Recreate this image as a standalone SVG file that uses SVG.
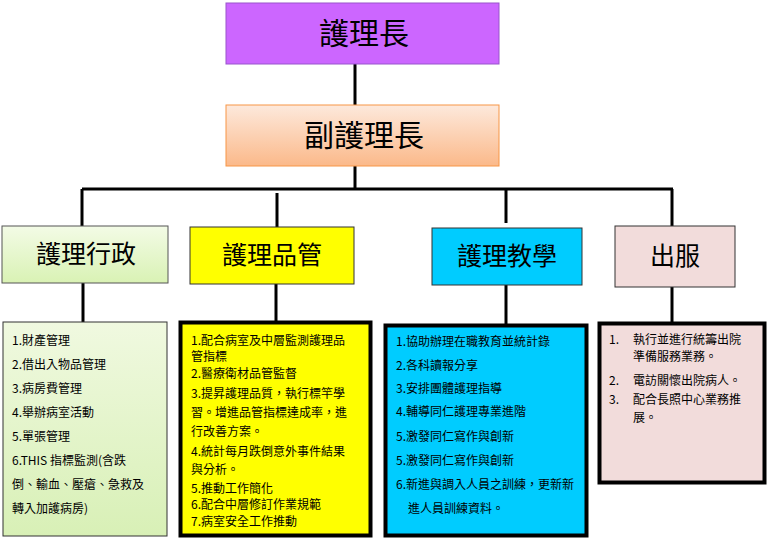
<svg xmlns="http://www.w3.org/2000/svg" width="768" height="541" viewBox="0 0 768 541">
<defs>
<linearGradient id="gOr" x1="0" y1="0" x2="0" y2="1"><stop offset="0" stop-color="#fde9dc"/><stop offset="1" stop-color="#fbb98a"/></linearGradient>
<linearGradient id="gGr" x1="0" y1="0" x2="0" y2="1"><stop offset="0" stop-color="#f3fbe6"/><stop offset="1" stop-color="#d9f2b4"/></linearGradient>
<linearGradient id="gGr2" x1="0" y1="0" x2="0" y2="1"><stop offset="0" stop-color="#f0f9e0"/><stop offset="1" stop-color="#d8f0b6"/></linearGradient>
</defs>
<style>
.t{font-family:"Noto Sans CJK TC","Liberation Sans",sans-serif;fill:#000}
.h{font-size:30px;text-anchor:middle}
.m{font-size:25px;text-anchor:middle}
.s{font-size:12px}
.c{stroke:#000;stroke-width:3;fill:none}
</style>
<g id="connectors">
<line class="c" x1="355" y1="64" x2="355" y2="105"/>
<line class="c" x1="355" y1="166" x2="355" y2="190"/>
<line class="c" x1="82" y1="189" x2="673" y2="189"/>
<line class="c" x1="82" y1="189" x2="82" y2="226"/>
<line class="c" x1="277" y1="193" x2="277" y2="227"/>
<line class="c" x1="506" y1="189" x2="506" y2="223"/>
<line class="c" x1="672" y1="189" x2="672" y2="226"/>
<line class="c" x1="83" y1="283" x2="83" y2="322"/>
<line class="c" x1="276" y1="284" x2="276" y2="321"/>
<line class="c" x1="506" y1="285" x2="506" y2="324"/>
<line class="c" x1="672" y1="287" x2="672" y2="322"/>
</g>
<g id="n-head"><rect x="226" y="3" width="273" height="61" fill="#cc66ff" stroke="#9955cc"/><text class="t h" x="364" y="44">護理長</text></g>
<g id="n-vice"><rect x="226" y="105" width="273" height="61" fill="url(#gOr)" stroke="#f79646"/><text class="t h" x="364" y="146">副護理長</text></g>
<g id="n-admin"><rect x="2" y="226" width="166" height="57" fill="url(#gGr)" stroke="#555"/><text class="t m" x="86" y="263">護理行政</text></g>
<g id="n-qc"><rect x="190" y="227" width="164" height="57" fill="#ffff00" stroke="#333"/><text class="t m" x="272" y="264">護理品管</text></g>
<g id="n-edu"><rect x="432" y="228" width="150" height="57" fill="#00ccff" stroke="#333"/><text class="t m" x="507" y="265">護理教學</text></g>
<g id="n-dis"><rect x="615" y="226" width="120" height="61" fill="#f2dcdb" stroke="#333"/><text class="t m" x="675" y="265">出服</text></g>
<g id="d-admin"><rect x="3" y="322" width="164" height="214" fill="url(#gGr2)" stroke="#333"/>
<text class="t s" x="12" y="345">1.財產管理</text>
<text class="t s" x="12" y="369">2.借出入物品管理</text>
<text class="t s" x="12" y="393">3.病房費管理</text>
<text class="t s" x="12" y="417">4.舉辦病室活動</text>
<text class="t s" x="12" y="441">5.單張管理</text>
<text class="t s" x="12" y="465">6.THIS 指標監測(含跌</text>
<text class="t s" x="12" y="489">倒、輸血、壓瘡、急救及</text>
<text class="t s" x="12" y="513">轉入加護病房)</text></g>
<g id="d-qc"><rect x="180.5" y="322.5" width="190" height="213" fill="#ffff00" stroke="#000" stroke-width="4"/>
<text class="t s" x="191" y="345">1.配合病室及中層監測護理品</text>
<text class="t s" x="191" y="361">管指標</text>
<text class="t s" x="191" y="378">2.醫療衛材品管監督</text>
<text class="t s" x="191" y="398">3.提昇護理品質，執行標竿學</text>
<text class="t s" x="191" y="417">習。增進品管指標達成率，進</text>
<text class="t s" x="191" y="436">行改善方案。</text>
<text class="t s" x="191" y="456">4.統計每月跌倒意外事件結果</text>
<text class="t s" x="191" y="474">與分析。</text>
<text class="t s" x="191" y="493">5.推動工作簡化</text>
<text class="t s" x="191" y="509">6.配合中層修訂作業規範</text>
<text class="t s" x="191" y="526">7.病室安全工作推動</text></g>
<g id="d-edu"><rect x="385.5" y="325.5" width="201" height="210" fill="#00ccff" stroke="#000" stroke-width="4"/>
<text class="t s" x="396" y="346">1.協助辦理在職教育並統計錄</text>
<text class="t s" x="396" y="370">2.各科讀報分享</text>
<text class="t s" x="396" y="393">3.安排團體護理指導</text>
<text class="t s" x="396" y="416">4.輔導同仁護理專業進階</text>
<text class="t s" x="396" y="441">5.激發同仁寫作與創新</text>
<text class="t s" x="396" y="465">5.激發同仁寫作與創新</text>
<text class="t s" x="396" y="489">6.新進與調入人員之訓練，更新新</text>
<text class="t s" x="408" y="513">進人員訓練資料。</text></g>
<g id="d-dis"><rect x="599.5" y="323.5" width="165" height="159" fill="#f2dcdb" stroke="#000" stroke-width="4"/>
<text class="t s" x="609" y="344">1.</text><text class="t s" x="633" y="344">執行並進行統籌出院</text>
<text class="t s" x="633" y="361">準備服務業務。</text>
<text class="t s" x="609" y="385">2.</text><text class="t s" x="633" y="385">電訪關懷出院病人。</text>
<text class="t s" x="609" y="404">3.</text><text class="t s" x="633" y="404">配合長照中心業務推</text>
<text class="t s" x="633" y="422">展。</text></g>
</svg>
